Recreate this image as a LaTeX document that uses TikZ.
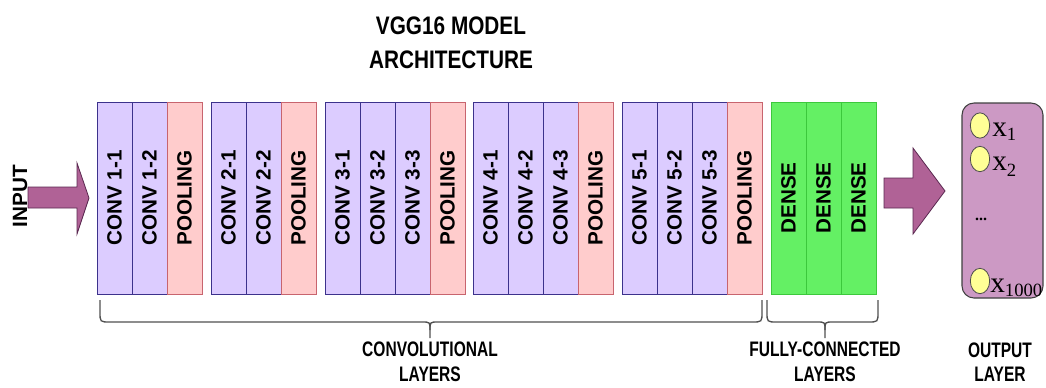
\documentclass[tikz,border=0pt]{standalone}
\usepackage{fontspec}
\setmainfont{Liberation Sans}
\newfontfamily\timesfont{Liberation Serif}
\usepackage{graphicx}
\usepackage{tikz}
\usetikzlibrary{shapes.geometric}

\definecolor{convfill}{RGB}{220,204,255}
\definecolor{convline}{RGB}{60,50,140}
\definecolor{poolfill}{RGB}{255,204,204}
\definecolor{poolline}{RGB}{200,100,110}
\definecolor{densefill}{RGB}{100,240,100}
\definecolor{denseline}{RGB}{60,200,60}
\definecolor{arrowfill}{RGB}{176,98,150}
\definecolor{arrowline}{RGB}{90,40,80}
\definecolor{outfill}{RGB}{204,153,196}
\definecolor{dotfill}{RGB}{255,255,150}
\definecolor{braceline}{RGB}{80,80,80}

\newcommand{\xsub}[2]{x\raisebox{-#2}{\fontsize{14}{14}\selectfont #1}}

\tikzset{
  layer/.style={minimum width=26.25pt, minimum height=144pt, inner sep=0pt,
    font=\fontsize{15.5}{18}\selectfont\bfseries},
  conv/.style={layer, draw=convline, fill=convfill},
  pool/.style={layer, draw=poolline, fill=poolfill},
  dense/.style={layer, draw=denseline, fill=densefill},
  bigarrow/.style={draw=arrowline, fill=arrowfill, line width=0.6pt},
  curly/.style={draw=braceline, line width=1pt},
  caption/.style={align=center, xscale=0.74, inner sep=0pt,
    font=\fontsize{15.75}{18.5}\selectfont\bfseries},
  outbox/.style={draw=black!75, fill=outfill, rounded corners=9pt, line width=0.8pt,
    minimum width=60.75pt, minimum height=146.25pt},
  unit/.style={ellipse, draw=black!70, fill=dotfill, line width=0.6pt,
    minimum width=14.5pt, minimum height=19pt, inner sep=0pt},
  xlab/.style={inner sep=0pt, anchor=base west, font=\timesfont\fontsize{22}{22}\selectfont}
}

\begin{document}
\begin{tikzpicture}[x=0.75pt,y=0.75pt,yscale=-1]
  \useasboundingbox (0,0) rectangle (1046,387);

  %Text: title
  \node[align=center, xscale=0.82, font=\fontsize{19}{25.5}\selectfont\bfseries] (title) at (451,43) {VGG16 MODEL\\ARCHITECTURE};

  %Text: input
  \node[font=\fontsize{15.5}{18}\selectfont\bfseries] (input) at (20,196) {\rotatebox{90}{INPUT}};
  %Shape: Right Arrow
  \draw[bigarrow] (28,187) -- (77,187) -- (77,163) -- (89,198) -- (77,234) -- (77,208) -- (28,208) -- cycle ;

  %Block 1
  \node[conv] (c11) at (114.5,198) {\rotatebox{90}{CONV 1-1}};
  \node[conv] (c12) at (149.5,198) {\rotatebox{90}{CONV 1-2}};
  \node[pool] (p1) at (184.5,198) {\rotatebox{90}{POOLING}};
  %Block 2
  \node[conv] (c21) at (228.5,198) {\rotatebox{90}{CONV 2-1}};
  \node[conv] (c22) at (263.5,198) {\rotatebox{90}{CONV 2-2}};
  \node[pool] (p2) at (298.5,198) {\rotatebox{90}{POOLING}};
  %Block 3
  \node[conv] (c31) at (342.5,198) {\rotatebox{90}{CONV 3-1}};
  \node[conv] (c32) at (377.5,198) {\rotatebox{90}{CONV 3-2}};
  \node[conv] (c33) at (412.5,198) {\rotatebox{90}{CONV 3-3}};
  \node[pool] (p3) at (447.5,198) {\rotatebox{90}{POOLING}};
  %Block 4
  \node[conv] (c41) at (490.5,198) {\rotatebox{90}{CONV 4-1}};
  \node[conv] (c42) at (525.5,198) {\rotatebox{90}{CONV 4-2}};
  \node[conv] (c43) at (560.5,198) {\rotatebox{90}{CONV 4-3}};
  \node[pool] (p4) at (595.5,198) {\rotatebox{90}{POOLING}};
  %Block 5
  \node[conv] (c51) at (639.5,198) {\rotatebox{90}{CONV 5-1}};
  \node[conv] (c52) at (674.5,198) {\rotatebox{90}{CONV 5-2}};
  \node[conv] (c53) at (709.5,198) {\rotatebox{90}{CONV 5-3}};
  \node[pool] (p5) at (744.5,198) {\rotatebox{90}{POOLING}};
  %Dense layers
  \node[dense] (d1) at (788.5,198) {\rotatebox{90}{DENSE}};
  \node[dense] (d2) at (823.5,198) {\rotatebox{90}{DENSE}};
  \node[dense] (d3) at (858.5,198) {\rotatebox{90}{DENSE}};

  %Shape: Right Arrow
  \draw[bigarrow] (884,178) -- (913,178) -- (913,148) -- (945,191) -- (913,234) -- (913,208) -- (884,208) -- cycle ;

  %Output layer
  \node[outbox] (outlayer) at (1002.5,200.5) {};
  \node[unit] (u1) at (980,125.5) {};
  \node[unit] (u2) at (980,159) {};
  \node[unit] (u3) at (980,281) {};
  \node[xlab] (x1) at (992,136) {\xsub{1}{3pt}};
  \node[xlab] (x2) at (992,170) {\xsub{2}{5pt}};
  \node[xlab] (x3) at (990,292) {\xsub{1000}{3pt}};
  \node[font=\timesfont\bfseries\fontsize{12}{12}\selectfont] (vdots) at (981,219) {...};

  %Curve Lines: convolutional brace
  \draw[curly] (100,300) -- (100,312) .. controls (100,322) .. (110,322) -- (422,322) .. controls (430,322) .. (430,330) -- (430,338) ;
  \draw[curly] (430,330) .. controls (430,322) .. (438,322) -- (752,322) .. controls (762,322) .. (762,312) -- (762,300) ;
  %Curve Lines: fully-connected brace
  \draw[curly] (767,300) -- (767,312) .. controls (767,322) .. (777,322) -- (817,322) .. controls (825,322) .. (825,330) -- (825,338) ;
  \draw[curly] (825,330) .. controls (825,322) .. (833,322) -- (868,322) .. controls (878,322) .. (878,312) -- (878,300) ;

  %Text: captions
  \node[caption] (convlab) at (430,362) {CONVOLUTIONAL\\LAYERS};
  \node[caption] (fclab) at (825,362) {FULLY-CONNECTED\\LAYERS};
  \node[caption] (outlab) at (1000,362) {OUTPUT\\LAYER};

\end{tikzpicture}
\end{document}
